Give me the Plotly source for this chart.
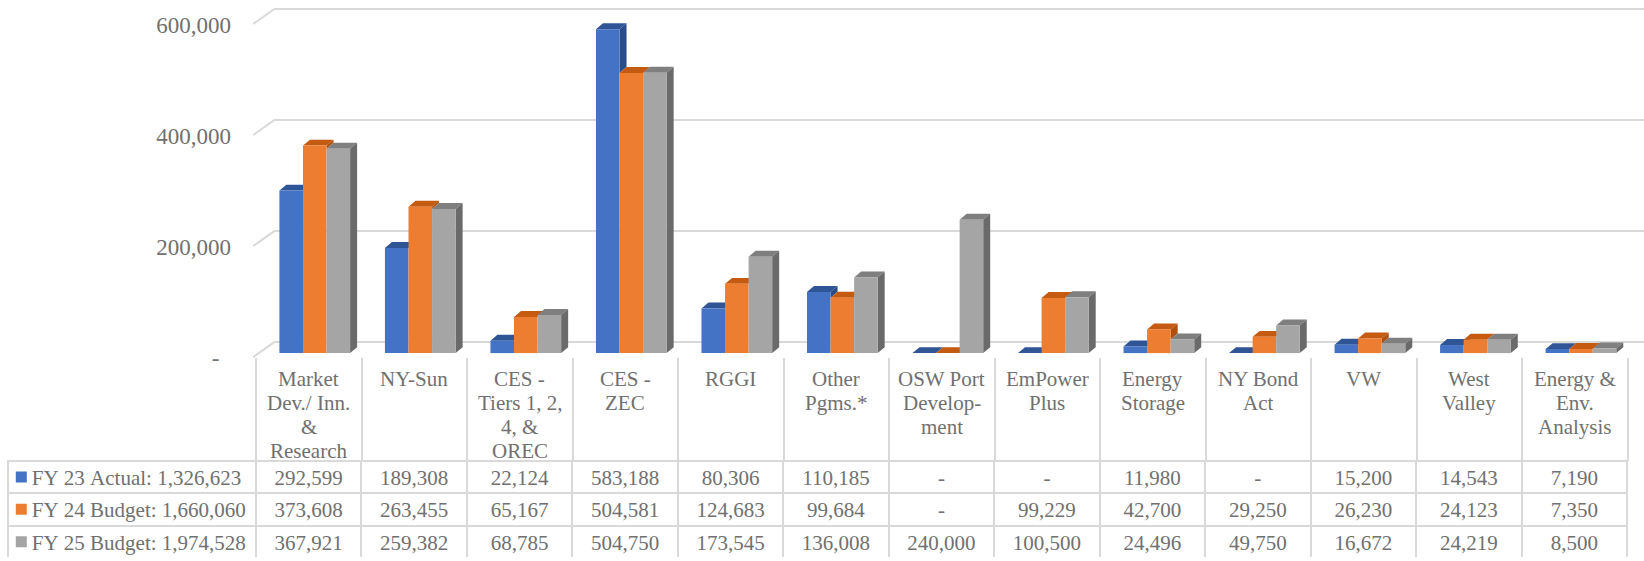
import plotly.graph_objects as go

# ---------------- data ----------------
categories = ["Market Dev./ Inn. & Research", "NY-Sun", "CES - Tiers 1, 2, 4, & OREC",
              "CES - ZEC", "RGGI", "Other Pgms.*", "OSW Port Development", "EmPower Plus",
              "Energy Storage", "NY Bond Act", "VW", "West Valley", "Energy & Env. Analysis"]
category_labels = ["Market<br>Dev./ Inn.<br>&<br>Research", "NY-Sun", "CES -<br>Tiers 1, 2,<br>4, &<br>OREC",
                   "CES -<br>ZEC", "RGGI", "Other<br>Pgms.*", "OSW Port<br>Develop-<br>ment", "EmPower<br>Plus",
                   "Energy<br>Storage", "NY Bond<br>Act", "VW", "West<br>Valley", "Energy &<br>Env.<br>Analysis"]
series_names = ["FY 23 Actual", "FY 24 Budget", "FY 25 Budget"]
fy23_actual = [292599, 189308, 22124, 583188, 80306, 110185, 0, 0, 11980, 0, 15200, 14543, 7190]
fy24_budget = [373608, 263455, 65167, 504581, 124683, 99684, 0, 99229, 42700, 29250, 26230, 24123, 7350]
fy25_budget = [367921, 259382, 68785, 504750, 173545, 136008, 240000, 100500, 24496, 49750, 16672, 24219, 8500]
y_tick_values = [0, 200000, 400000, 600000]
y_tick_labels = ["-\u00a0\u00a0", "200,000", "400,000", "600,000"]

series_values = [fy23_actual, fy24_budget, fy25_budget]
front_colors = ["#4472C4", "#ED7D31", "#A5A5A5"]
top_colors = ["#2F5597", "#C55A11", "#7F7F7F"]
side_colors = ["#2A4C88", "#B05010", "#6A6A6A"]

# ---------------- geometry (pixels) ----------------
W, H = 1644, 561
PLOT_BOTTOM = 370           # bottom of chart drawing area
TABLE_TOP = 360             # top of category-label band
ROWS_TOP, ROW_H = 463.3, 32.5
PX_PER_UNIT = 335 / 600000  # vertical scale
GRID_BASE, BAR_BASE, LABEL_BASE = 344, 355, 360
BAR_LEFT, BAR_RIGHT = 262, 1633.7
TABLE_LEFT, TABLE_SPLIT, TABLE_RIGHT = 8, 256, 1627.7
CAT_PX = (BAR_RIGHT - BAR_LEFT) / len(categories)
DEPTH_X_PX, DEPTH_Y_PX = 7, 6
BARGAP = 0.33
FONT = "Liberation Serif"
TEXT_COLOR = "#707070"
GRID_COLOR = "#D9D9D9"
LABEL_FIRST_LINE, LABEL_PITCH = 21, 24
LEGEND_MARK_X = 21.3
YLABEL_POS = 231

ydom = [1 - PLOT_BOTTOM / H, 1]


def yrange(base_px):
    return [-(PLOT_BOTTOM - base_px) / PX_PER_UNIT, base_px / PX_PER_UNIT]


n = len(categories)
xs = list(range(n))
xrange_cat = [-0.5, n - 0.5]
bw = (1 - BARGAP) / len(series_values)
dxu = DEPTH_X_PX / CAT_PX
dyu = DEPTH_Y_PX / PX_PER_UNIT
tab_cat_px = (TABLE_RIGHT - TABLE_SPLIT) / n
pad_u = 5 / tab_cat_px

fig = go.Figure()

# invisible anchors for the grid, label and category axes
fig.add_trace(go.Scatter(x=[0.5], y=[0], xaxis="x", yaxis="y", mode="markers",
                         marker=dict(opacity=0), hoverinfo="skip", showlegend=False))
fig.add_trace(go.Scatter(x=[0.5], y=[0], xaxis="x", yaxis="y4", mode="markers",
                         marker=dict(opacity=0), hoverinfo="skip", showlegend=False))
fig.add_trace(go.Scatter(x=[0], y=[0.5], xaxis="x4", yaxis="y5", mode="markers",
                         marker=dict(opacity=0), hoverinfo="skip", showlegend=False))

# 3D faces (tops and visible right sides), drawn under the bar fronts
for j, vals in enumerate(series_values):
    tx, ty, sx, sy = [], [], [], []
    for i, v in enumerate(vals):
        xl = xs[i] + (j - len(series_values) / 2) * bw
        xr = xl + bw
        tx += [xl, xr, xr + dxu, xl + dxu, xl, None]
        ty += [v, v, v + dyu, v + dyu, v, None]
        lower = 0 if j == len(series_values) - 1 else series_values[j + 1][i]
        if v > lower:
            sx += [xr, xr, xr + dxu, xr + dxu, xr, None]
            sy += [lower, v, v + dyu, lower + dyu, lower, None]
    fig.add_trace(go.Scatter(x=tx, y=ty, xaxis="x2", yaxis="y2", mode="lines", fill="toself",
                             fillcolor=top_colors[j], line=dict(width=0, color=top_colors[j]),
                             hoverinfo="skip", showlegend=False))
    fig.add_trace(go.Scatter(x=sx, y=sy, xaxis="x2", yaxis="y2", mode="lines", fill="toself",
                             fillcolor=side_colors[j], line=dict(width=0, color=side_colors[j]),
                             hoverinfo="skip", showlegend=False))

# bar fronts
for j, vals in enumerate(series_values):
    fig.add_trace(go.Bar(x=xs, y=vals, name=series_names[j], xaxis="x3", yaxis="y3",
                         marker=dict(color=front_colors[j], line=dict(width=0)),
                         hoverinfo="skip", showlegend=False))

# legend keys in the table's first column
fig.add_trace(go.Scatter(x=[LEGEND_MARK_X - TABLE_LEFT] * len(series_values),
                         y=list(range(len(series_values))), xaxis="x5", yaxis="y6",
                         mode="markers", marker=dict(symbol="square", size=11, color=front_colors),
                         hoverinfo="skip", showlegend=False))


# data table
def fmt(v):
    return "-" if v == 0 else f"{v:,}"


legend_cells = [("   " + f"{series_names[j]}: {sum(vals):,}").replace(" ", "\u00a0")
                for j, vals in enumerate(series_values)]
rows = [[legend_cells[j]] + [fmt(v) for v in vals] for j, vals in enumerate(series_values)]
col_align = ["left"] + ["center"] * n
tfont = dict(family=FONT, size=21, color=TEXT_COLOR)

fig.add_trace(go.Table(
    domain=dict(x=[TABLE_LEFT / W, TABLE_RIGHT / W],
                y=[1 - (ROWS_TOP + 3 * ROW_H) / H, 1 - ROWS_TOP / H]),
    columnwidth=[TABLE_SPLIT - TABLE_LEFT] + [tab_cat_px] * n,
    header=dict(values=rows[0], height=ROW_H, fill_color="rgba(0,0,0,0)",
                line=dict(color=GRID_COLOR, width=2), align=col_align, font=tfont),
    cells=dict(values=[list(c) for c in zip(*rows[1:])], height=ROW_H, fill_color="rgba(0,0,0,0)",
               line=dict(color=GRID_COLOR, width=2), align=col_align, font=tfont),
))

# category labels in the band above the table
annotations = []
for i, lab in enumerate(category_labels):
    for k, line in enumerate(lab.split("<br>")):
        annotations.append(dict(x=xs[i], xref="x4", y=1 - TABLE_TOP / H, yref="paper",
                                yanchor="middle", xanchor="center",
                                yshift=-(LABEL_FIRST_LINE + k * LABEL_PITCH),
                                text=line, showarrow=False, font=tfont))

# back-wall gridline diagonals (left wall edge)
for v in y_tick_values:
    fig.add_shape(type="line", xref="paper", yref="y",
                  x0=253.3 / W, y0=v - 15 / PX_PER_UNIT, x1=274.3 / W, y1=v,
                  line=dict(color=GRID_COLOR, width=2), layer="below")

fig.update_layout(
    width=W, height=H,
    margin=dict(l=0, r=0, t=0, b=0),
    paper_bgcolor="white", plot_bgcolor="rgba(0,0,0,0)",
    barmode="group", bargap=BARGAP, bargroupgap=0,
    hovermode=False, showlegend=False,
    annotations=annotations,
    xaxis=dict(domain=[274.3 / W, 1], range=[0, 1], visible=False),
    yaxis=dict(domain=ydom, range=yrange(GRID_BASE), tickvals=y_tick_values, showticklabels=False,
               showgrid=True, gridcolor=GRID_COLOR, gridwidth=2, zeroline=True,
               zerolinecolor=GRID_COLOR, zerolinewidth=2, showline=False, ticks=""),
    xaxis2=dict(domain=[BAR_LEFT / W, BAR_RIGHT / W], range=xrange_cat, visible=False, anchor="y2"),
    yaxis2=dict(domain=ydom, range=yrange(BAR_BASE), visible=False, anchor="x2"),
    xaxis3=dict(domain=[BAR_LEFT / W, BAR_RIGHT / W], range=xrange_cat, visible=False, anchor="y3"),
    yaxis3=dict(domain=ydom, range=yrange(BAR_BASE), visible=False, anchor="x3"),
    yaxis4=dict(overlaying="y", anchor="free", position=YLABEL_POS / W, side="left",
                range=yrange(LABEL_BASE), tickvals=y_tick_values, ticktext=y_tick_labels,
                showgrid=False, zeroline=False, showline=False, ticks="",
                tickfont=dict(family=FONT, size=23, color=TEXT_COLOR)),
    # category band: column separators as grid lines
    xaxis4=dict(domain=[(TABLE_SPLIT - 5) / W, (TABLE_RIGHT + 5) / W],
                range=[xrange_cat[0] - pad_u, xrange_cat[1] + pad_u], anchor="y5",
                tickvals=[x - 0.5 for x in xs] + [xs[-1] + 0.5], showticklabels=False,
                ticks="", showline=False, showgrid=True, gridcolor=GRID_COLOR, gridwidth=2,
                zeroline=False),
    yaxis5=dict(domain=[1 - ROWS_TOP / H, 1 - TABLE_TOP / H], range=[0, 1], visible=False, anchor="x4"),
    # legend key positions
    xaxis5=dict(domain=[TABLE_LEFT / W, TABLE_SPLIT / W], range=[0, TABLE_SPLIT - TABLE_LEFT],
                visible=False, anchor="y6"),
    yaxis6=dict(domain=[1 - (ROWS_TOP + 3 * ROW_H) / H, 1 - ROWS_TOP / H],
                range=[len(series_values) - 0.5, -0.5], visible=False, anchor="x5"),
)

fig.write_html("out.html", config={"displayModeBar": False},
               post_script="document.body.style.margin='0';")
